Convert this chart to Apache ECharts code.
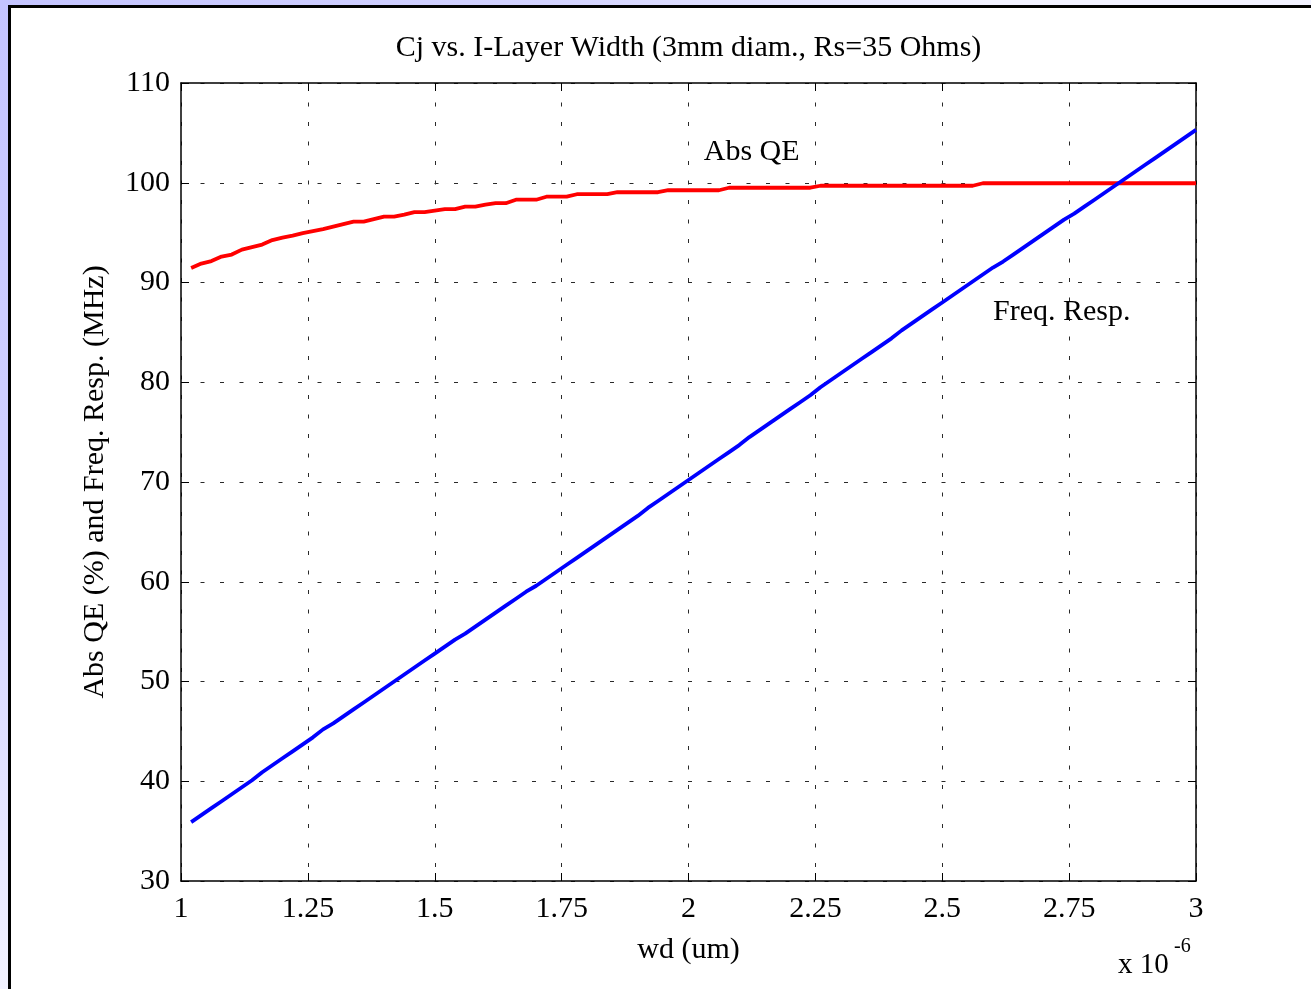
<!DOCTYPE html>
<html>
<head>
<meta charset="utf-8">
<title>Cj vs. I-Layer Width</title>
<script src="https://cdn.jsdelivr.net/npm/echarts@6/dist/echarts.min.js"></script>
<style>
  html, body { margin: 0; padding: 0; background: #ffffff; }
  #chart { width: 1311px; height: 989px; }
</style>
</head>
<body>
<div id="chart"></div>
<script>
// I-layer width wd, in units of 1e-6 (um)
const wd = [
  1.02, 1.04, 1.06, 1.08, 1.10, 1.12, 1.14, 1.16, 1.18, 1.20,
  1.22, 1.24, 1.26, 1.28, 1.30, 1.32, 1.34, 1.36, 1.38, 1.40,
  1.42, 1.44, 1.46, 1.48, 1.50, 1.52, 1.54, 1.56, 1.58, 1.60,
  1.62, 1.64, 1.66, 1.68, 1.70, 1.72, 1.74, 1.76, 1.78, 1.80,
  1.82, 1.84, 1.86, 1.88, 1.90, 1.92, 1.94, 1.96, 1.98, 2.00,
  2.02, 2.04, 2.06, 2.08, 2.10, 2.12, 2.14, 2.16, 2.18, 2.20,
  2.22, 2.24, 2.26, 2.28, 2.30, 2.32, 2.34, 2.36, 2.38, 2.40,
  2.42, 2.44, 2.46, 2.48, 2.50, 2.52, 2.54, 2.56, 2.58, 2.60,
  2.62, 2.64, 2.66, 2.68, 2.70, 2.72, 2.74, 2.76, 2.78, 2.80,
  2.82, 2.84, 2.86, 2.88, 2.90, 2.92, 2.94, 2.96, 2.98, 3.00
];

// Absorption quantum efficiency (%)
const absQE = [
  91.45, 91.9, 92.15, 92.6, 92.8, 93.3, 93.55, 93.8, 94.25, 94.5,
  94.7, 94.95, 95.15, 95.35, 95.6, 95.85, 96.1, 96.1, 96.35, 96.6,
  96.6, 96.8, 97.05, 97.05, 97.2, 97.35, 97.35, 97.6, 97.6, 97.8,
  97.95, 97.95, 98.3, 98.3, 98.3, 98.6, 98.6, 98.6, 98.85, 98.85,
  98.85, 98.85, 99.05, 99.05, 99.05, 99.05, 99.05, 99.25, 99.25, 99.25,
  99.25, 99.25, 99.25, 99.5, 99.5, 99.5, 99.5, 99.5, 99.5, 99.5,
  99.5, 99.5, 99.7, 99.7, 99.7, 99.7, 99.7, 99.7, 99.7, 99.7,
  99.7, 99.7, 99.7, 99.7, 99.7, 99.7, 99.7, 99.7, 99.95, 99.95,
  99.95, 99.95, 99.95, 99.95, 99.95, 99.95, 99.95, 99.95, 99.95, 99.95,
  99.95, 99.95, 99.95, 99.95, 99.95, 99.95, 99.95, 99.95, 99.95, 99.95
];

// Frequency response (MHz)
const freqResp = [
  35.9, 36.6, 37.3, 38.0, 38.7, 39.4, 40.1, 40.9, 41.6, 42.3,
  43.0, 43.7, 44.4, 45.2, 45.8, 46.5, 47.2, 47.9, 48.6, 49.3,
  50.0, 50.7, 51.4, 52.1, 52.8, 53.5, 54.2, 54.8, 55.5, 56.2,
  56.9, 57.6, 58.3, 59.0, 59.6, 60.3, 61.0, 61.7, 62.4, 63.1,
  63.8, 64.5, 65.2, 65.9, 66.6, 67.4, 68.1, 68.8, 69.5, 70.2,
  70.9, 71.6, 72.3, 73.0, 73.7, 74.5, 75.2, 75.9, 76.6, 77.3,
  78.0, 78.7, 79.5, 80.2, 80.9, 81.6, 82.3, 83.0, 83.7, 84.4,
  85.2, 85.9, 86.6, 87.3, 88.0, 88.7, 89.4, 90.1, 90.8, 91.5,
  92.1, 92.8, 93.5, 94.2, 94.9, 95.6, 96.3, 96.9, 97.6, 98.3,
  99.0, 99.7, 100.4, 101.1, 101.8, 102.5, 103.2, 103.9, 104.6, 105.3
];

// Axis ranges and tick steps
const xRange = [1, 3];
const xStep = 0.25;
const yRange = [30, 110];
const yStep = 10;

// Curve annotations: [text, wd, value]
const curveLabels = [
  ['Abs QE', 2.03, 103.1],
  ['Freq. Resp.', 2.6, 87.0]
];

const titleText = 'Cj vs. I-Layer Width (3mm diam., Rs=35 Ohms)';
const xAxisTitle = 'wd (um)';
const yAxisTitle = 'Abs QE (%) and Freq. Resp. (MHz)';

const FONT = '"Liberation Serif", "DejaVu Serif", serif';
const FS = 30;
const GRID = { left: 181, top: 83, right: 115, bottom: 108 };
const W = 1311;

const chart = echarts.init(document.getElementById('chart'), null, { renderer: 'canvas' });

const gridLine = {
  show: true,
  lineStyle: { color: '#2a2a2a', width: 1, type: [4, 15.5] }
};

const frameAxis = {
  axisLine: { show: true, onZero: false, lineStyle: { color: '#000', width: 1.5 } },
  axisTick: { show: true, inside: true, length: 8, lineStyle: { color: '#000' } }
};

const pairs = (ys) => wd.map((x, i) => [x, ys[i]]);

// Title centred over the plot box rather than the page
const plotCentreX = GRID.left + (W - GRID.left - GRID.right) / 2;

const option = {
  backgroundColor: '#ffffff',
  animation: false,
  graphic: [
    {
      id: 'bg', type: 'rect', z: -10, silent: true,
      shape: { x: 0, y: 0, width: 1311, height: 989 },
      style: {
        fill: new echarts.graphic.RadialGradient(0, 0, 1.0, [
          { offset: 0, color: '#c4c4ff' },
          { offset: 0.55, color: '#d2d2ff' },
          { offset: 1, color: '#f2f2ff' }
        ])
      }
    },
    {
      id: 'panel', type: 'rect', z: -9, silent: true,
      shape: { x: 9.5, y: 6.5, width: 1320, height: 1000 },
      style: { fill: '#ffffff', stroke: '#000000', lineWidth: 3 }
    },
    {
      id: 'title', type: 'text', silent: true,
      x: plotCentreX, y: 48,
      style: {
        text: titleText, font: FS + 'px ' + FONT, fill: '#000',
        textAlign: 'center', textVerticalAlign: 'middle'
      }
    },
    {
      id: 'exp-base', type: 'text', silent: true,
      left: 1118, top: 951,
      style: { text: 'x 10', font: '29px ' + FONT, fill: '#000' }
    },
    {
      id: 'exp-power', type: 'text', silent: true,
      left: 1174, top: 937,
      style: { text: '-6', font: '20px ' + FONT, fill: '#000' }
    }
  ],
  grid: { left: GRID.left, top: GRID.top, right: GRID.right, bottom: GRID.bottom, containLabel: false },
  xAxis: [
    Object.assign({
      type: 'value', min: xRange[0], max: xRange[1], interval: xStep,
      position: 'bottom',
      name: xAxisTitle, nameLocation: 'middle', nameGap: 54,
      nameTextStyle: { fontFamily: FONT, fontSize: FS, color: '#000' },
      axisLabel: { fontFamily: FONT, fontSize: FS, color: '#000', margin: 13 },
      splitLine: gridLine
    }, frameAxis),
    Object.assign({
      type: 'value', min: xRange[0], max: xRange[1], interval: xStep,
      position: 'top',
      axisLabel: { show: false },
      splitLine: { show: false }
    }, frameAxis)
  ],
  yAxis: [
    Object.assign({
      type: 'value', min: yRange[0], max: yRange[1], interval: yStep,
      position: 'left',
      name: yAxisTitle, nameLocation: 'middle', nameGap: 71, nameRotate: 90,
      nameTextStyle: { fontFamily: FONT, fontSize: FS, color: '#000' },
      axisLabel: { fontFamily: FONT, fontSize: FS, color: '#000', margin: 11 },
      splitLine: gridLine
    }, frameAxis),
    Object.assign({
      type: 'value', min: yRange[0], max: yRange[1], interval: yStep,
      position: 'right',
      axisLabel: { show: false },
      splitLine: { show: false }
    }, frameAxis)
  ],
  series: [
    {
      name: 'Abs QE', type: 'line', data: pairs(absQE),
      showSymbol: false, symbol: 'none', smooth: false,
      lineStyle: { color: '#ff0000', width: 3.8 },
      z: 3
    },
    {
      name: 'Freq. Resp.', type: 'line', data: pairs(freqResp),
      showSymbol: false, symbol: 'none', smooth: false,
      lineStyle: { color: '#0000ff', width: 3.8 },
      z: 4
    }
  ]
};

chart.setOption(option);

// Curve names placed at their data coordinates
chart.setOption({
  graphic: curveLabels.map((d, i) => {
    const p = chart.convertToPixel({ gridIndex: 0 }, [d[1], d[2]]);
    return {
      id: 'curve-label-' + i, type: 'text', silent: true, z: 100,
      x: p[0], y: p[1],
      style: {
        text: d[0], font: FS + 'px ' + FONT, fill: '#000000',
        textAlign: 'left', textVerticalAlign: 'middle'
      }
    };
  })
});
</script>
</body>
</html>
